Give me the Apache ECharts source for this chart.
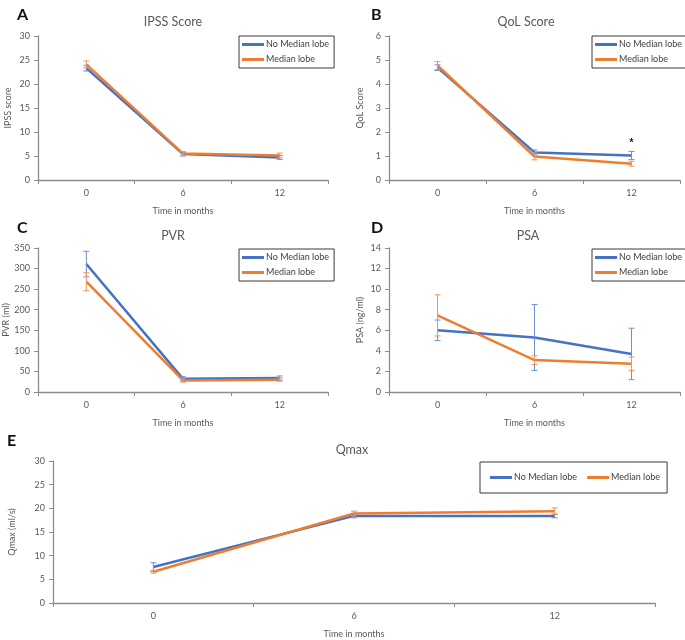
<!DOCTYPE html>
<html><head><meta charset="utf-8">
<script src="https://cdn.jsdelivr.net/npm/echarts@6/dist/echarts.min.js"></script>
<style>html,body{margin:0;padding:0;background:#fff}#c{width:685px;height:640px}</style>
</head><body><div id="c"></div>
<script>
const months = ['0', '6', '12'];
const seriesNames = ['No Median lobe', 'Median lobe'];
// IPSS
const ipssNoMedian = [23.3, 5.4, 4.7];
const ipssNoMedianErr = [0.6, 0.4, 0.4];
const ipssMedian = [24.1, 5.5, 5.1];
const ipssMedianErr = [0.7, 0.4, 0.5];
// QoL
const qolNoMedian = [4.68, 1.15, 1.02];
const qolNoMedianErr = [0.12, 0.1, 0.17];
const qolMedian = [4.77, 0.98, 0.68];
const qolMedianErr = [0.16, 0.14, 0.1];
const qolSignificance = ['', '', '*'];
// PVR
const pvrNoMedian = [311, 32, 34];
const pvrNoMedianErr = [31, 5, 5];
const pvrMedian = [268, 28, 30];
const pvrMedianErr = [22, 4, 4];
// PSA
const psaNoMedian = [6.0, 5.3, 3.7];
const psaNoMedianErr = [1.0, 3.2, 2.5];
const psaMedian = [7.45, 3.1, 2.75];
const psaMedianErr = [2.0, 0.42, 0.65];
// Qmax
const qmaxNoMedian = [7.6, 18.4, 18.4];
const qmaxNoMedianErr = [0.9, 0.4, 0.4];
const qmaxMedian = [6.6, 18.9, 19.4];
const qmaxMedianErr = [0.3, 0.5, 0.7];

const BLUE = '#4472C4', ORANGE = '#ED7D31';
const BLUE_E = '#6a92d8', ORANGE_E = '#f29359';
const FONT = 'Lato, "Open Sans", sans-serif';
const GRAY = '#595959';

const panels = [
  {title:'IPSS Score', letter:'A', yName:'IPSS score', yGap:25, max:30, interval:5, a:ipssNoMedian, ae:ipssNoMedianErr, b:ipssMedian, be:ipssMedianErr,
   grid:{left:38, top:36, width:290, height:144}, titleX:173, titleY:15, letterX:17, letterY:7, legend:{left:239, top:36, orient:'vertical'}},
  {title:'QoL Score', letter:'B', yName:'QoL Score', yGap:24, max:6, interval:1, a:qolNoMedian, ae:qolNoMedianErr, b:qolMedian, be:qolMedianErr,
   grid:{left:389, top:36, width:291, height:144}, titleX:526, titleY:15, letterX:371, letterY:7, legend:{left:592, top:36, orient:'vertical'}},
  {title:'PVR', letter:'C', yName:'PVR (ml)', yGap:25, max:350, interval:50, a:pvrNoMedian, ae:pvrNoMedianErr, b:pvrMedian, be:pvrMedianErr,
   grid:{left:38, top:248, width:290, height:144}, titleX:173, titleY:229, letterX:17, letterY:220, legend:{left:239, top:249, orient:'vertical'}},
  {title:'PSA', letter:'D', yName:'PSA (ng/ml)', yGap:24, max:14, interval:2, a:psaNoMedian, ae:psaNoMedianErr, b:psaMedian, be:psaMedianErr,
   grid:{left:389, top:248, width:291, height:144}, titleX:528, titleY:229, letterX:371, letterY:220, legend:{left:592, top:249, orient:'vertical'}},
  {title:'Qmax', letter:'E', yName:'Qmax (ml/s)', yGap:36, max:30, interval:5, a:qmaxNoMedian, ae:qmaxNoMedianErr, b:qmaxMedian, be:qmaxMedianErr,
   grid:{left:49, top:461, width:606, height:144}, titleX:352, titleY:443, letterX:7, letterY:433, legend:{left:480, top:462, orient:'horizontal'}}
];

function errSeries(idx, vals, errs, color) {
  return {
    type:'custom', xAxisIndex:idx, yAxisIndex:idx, silent:true, z:3,
    data: vals.map((v,i)=>[i, v, errs[i]]),
    encode:{x:0, y:1},
    renderItem: function(params, api){
      const x = api.value(0), v = api.value(1), e = api.value(2);
      const t = api.coord([x, v+e]), b = api.coord([x, v-e]);
      const w = 3;
      const st = {stroke:color, lineWidth:1};
      return {type:'group', children:[
        {type:'line', shape:{x1:t[0], y1:t[1], x2:b[0], y2:b[1]}, style:st},
        {type:'line', shape:{x1:t[0]-w, y1:t[1], x2:t[0]+w, y2:t[1]}, style:st},
        {type:'line', shape:{x1:b[0]-w, y1:b[1], x2:b[0]+w, y2:b[1]}, style:st}
      ]};
    }
  };
}

const option = {
  animation:false,
  backgroundColor:'#fff',
  textStyle:{fontFamily:FONT},
  title:[], grid:[], xAxis:[], yAxis:[], legend:[], series:[]
};

panels.forEach((p, i) => {
  option.title.push({text:p.title, left:p.titleX, top:p.titleY, textAlign:'center', padding:0,
    textStyle:{fontFamily:FONT, fontSize:12.5, fontWeight:'normal', color:GRAY}});
  option.title.push({text:p.letter, left:p.letterX, top:p.letterY, padding:0,
    textStyle:{fontFamily:FONT, fontSize:16, fontWeight:'bold', color:'#111'}});
  option.grid.push(Object.assign({containLabel:false}, p.grid));
  option.xAxis.push({type:'category', gridIndex:i, data:months, boundaryGap:true,
    name:'Time in months', nameLocation:'middle', nameGap:27,
    nameTextStyle:{fontFamily:FONT, fontSize:9, color:GRAY},
    axisLine:{lineStyle:{color:'#8c8c8c', width:1.3}},
    axisTick:{show:true, length:4, lineStyle:{color:'#8c8c8c'}},
    axisLabel:{fontFamily:FONT, fontSize:9, color:GRAY, margin:9},
    splitLine:{show:false}});
  option.yAxis.push({type:'value', gridIndex:i, min:0, max:p.max, interval:p.interval,
    name:p.yName, nameLocation:'middle', nameGap:p.yGap, nameRotate:90,
    nameTextStyle:{fontFamily:FONT, fontSize:9, color:GRAY},
    axisLine:{show:true, lineStyle:{color:'#8c8c8c', width:1.3}},
    axisTick:{show:true, length:4, lineStyle:{color:'#8c8c8c'}},
    axisLabel:{fontFamily:FONT, fontSize:9, color:GRAY, margin:8},
    splitLine:{show:false}});
  const horiz = p.legend.orient === 'horizontal';
  option.legend.push({data:seriesNames, left:p.legend.left, top:p.legend.top, orient:p.legend.orient,
    icon:'rect', itemWidth:22, itemHeight:3,
    itemGap: horiz ? 10 : 6,
    padding: horiz ? [11, 7, 11, 10] : [4, 5, 4, 3],
    borderColor:'#3a3a3a', borderWidth:1, selectedMode:false,
    textStyle:{fontFamily:FONT, fontSize:9, color:'#404040', padding:[0,0,0,-3]}});
  option.series.push({name:seriesNames[0], type:'line', xAxisIndex:i, yAxisIndex:i, data:p.a,
    symbol:'none', lineStyle:{color:BLUE, width:2.5}, itemStyle:{color:BLUE}, z:2});
  option.series.push({name:seriesNames[1], type:'line', xAxisIndex:i, yAxisIndex:i, data:p.b,
    symbol:'none', lineStyle:{color:ORANGE, width:2.5}, itemStyle:{color:ORANGE}, z:2});
  option.series.push(errSeries(i, p.a, p.ae, BLUE_E));
  option.series.push(errSeries(i, p.b, p.be, ORANGE_E));
});

// significance marker on QoL panel
option.series.push({
  type:'custom', xAxisIndex:1, yAxisIndex:1, silent:true, z:4,
  data: qolSignificance.map((s,i)=>[i, qolNoMedian[i] + qolNoMedianErr[i], s]),
  renderItem: function(params, api){
    const s = qolSignificance[params.dataIndex];
    if (!s) return null;
    const pt = api.coord([api.value(0), api.value(1)]);
    return {type:'text', x:pt[0], y:pt[1]-3, style:{text:s, fontSize:10, fontWeight:'bold', fill:'#222', align:'center', verticalAlign:'bottom'}};
  }
});

const chart = echarts.init(document.getElementById('c'), null, {renderer:'canvas'});
chart.setOption(option);
</script></body></html>
